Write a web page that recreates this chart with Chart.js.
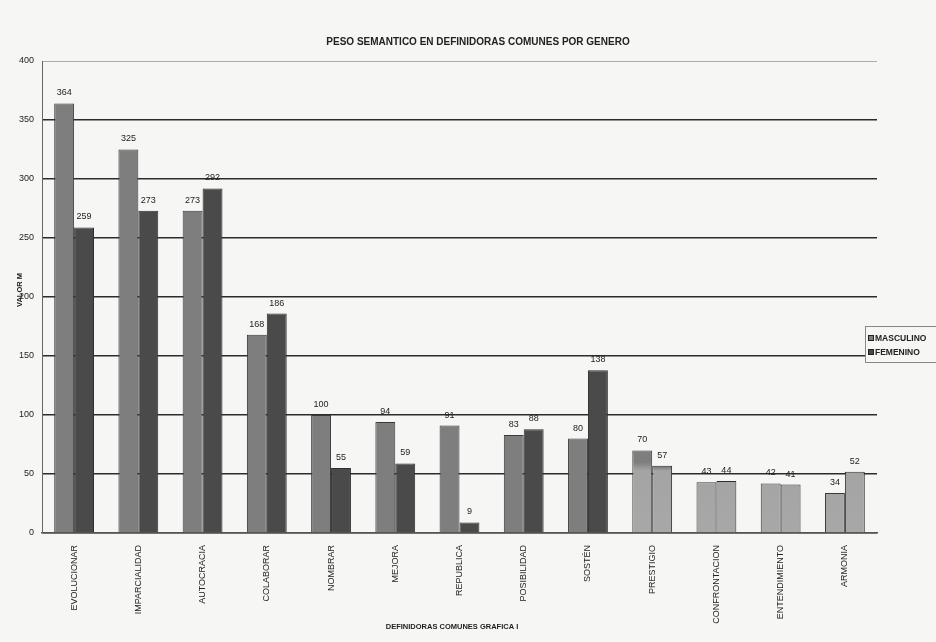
<!DOCTYPE html>
<html>
<head>
<meta charset="utf-8">
<script src="https://cdn.jsdelivr.net/npm/chart.js@4"></script>
<style>
  html, body { margin: 0; padding: 0; background: #f6f6f4; }
  #wrap { width: 936px; height: 642px; position: relative; }
</style>
</head>
<body>
<div id="wrap"><canvas id="myChart" width="936" height="642"></canvas></div>
<script>
// categories and values
var categories = ['EVOLUCIONAR', 'IMPARCIALIDAD', 'AUTOCRACIA', 'COLABORAR', 'NOMBRAR', 'MEJORA',
    'REPUBLICA', 'POSIBILIDAD', 'SOSTÉN', 'PRESTIGIO', 'CONFRONTACION', 'ENTENDIMIENTO', 'ARMONIA'];
var masculino = [364, 325, 273, 168, 100, 94, 91, 83, 80, 70, 43, 42, 34];
var femenino = [259, 273, 292, 186, 55, 59, 9, 88, 138, 57, 44, 41, 52];
var yTicks = [0, 50, 100, 150, 200, 250, 300, 350, 400];

var chartTitle = 'PESO SEMANTICO EN DEFINIDORAS COMUNES POR GENERO';
var xTitle = 'DEFINIDORAS COMUNES GRAFICA I';
var yTitle = 'VALOR M';

var FONT = 'Arial, "Liberation Sans", sans-serif';

/* the last four groups came out lighter at the bottom in the scan */
function barFill(dark) {
    return function (ctx) {
        var chart = ctx.chart;
        var area = chart.chartArea;
        if (!area || ctx.dataIndex < 9) return dark;
        var y = chart.scales.y;
        var g = chart.ctx.createLinearGradient(0, y.getPixelForValue(60), 0, y.getPixelForValue(0));
        g.addColorStop(0, dark);
        g.addColorStop(0.12, '#a4a4a4');
        g.addColorStop(1, '#a8a8a8');
        return g;
    };
}

/* value labels, titles and legend drawn on the canvas */
const extras = {
    id: 'extras',
    afterDatasetsDraw(chart) {
        var c = chart.ctx;
        c.save();
        c.fillStyle = '#222';
        c.font = '9px ' + FONT;
        c.textAlign = 'center';
        c.textBaseline = 'bottom';
        chart.data.datasets.forEach(function (ds, i) {
            var meta = chart.getDatasetMeta(i);
            meta.data.forEach(function (bar, j) {
                c.fillText(ds.data[j], bar.x, bar.y - 6);
            });
        });

        c.font = 'bold 10px ' + FONT;
        c.textBaseline = 'middle';
        c.fillText(chartTitle, 478, 42);

        c.font = 'bold 7.5px ' + FONT;
        c.fillText(xTitle, 452, 627);

        c.save();
        c.translate(20, 290);
        c.rotate(-Math.PI / 2);
        c.font = 'bold 7.5px ' + FONT;
        c.fillText(yTitle, 0, 0);
        c.restore();

        // legend box
        c.fillStyle = '#f6f6f4';
        c.fillRect(865, 326, 71, 37);
        c.strokeStyle = '#888';
        c.lineWidth = 1;
        c.strokeRect(865.5, 326.5, 72, 36);
        c.textAlign = 'left';
        c.font = 'bold 8.5px ' + FONT;
        chart.data.datasets.forEach(function (ds, i) {
            var ly = 338 + i * 14;
            c.fillStyle = ds.legendColor;
            c.fillRect(868, ly - 3, 6, 6);
            c.strokeStyle = '#222';
            c.strokeRect(868.5, ly - 2.5, 5, 5);
            c.fillStyle = '#222';
            c.fillText(ds.label, 875, ly + 0.5);
        });
        c.restore();
    }
};

const data = {
    labels: categories,
    datasets: [
        {
            label: 'MASCULINO',
            data: masculino,
            legendColor: '#7e7e7e',
            backgroundColor: barFill('#7e7e7e'),
            borderColor: '#3a3a3a',
            borderWidth: 1
        },
        {
            label: 'FEMENINO',
            data: femenino,
            legendColor: '#4a4a4a',
            backgroundColor: barFill('#4a4a4a'),
            borderColor: '#2e2e2e',
            borderWidth: 1
        }
    ]
};

const config = {
    type: 'bar',
    data: data,
    options: {
        responsive: false,
        animation: false,
        layout: { padding: { top: 61, right: 59, left: 0, bottom: 0 } },
        categoryPercentage: 0.62,
        barPercentage: 1,
        plugins: {
            legend: { display: false },
            title: { display: false },
            tooltip: { enabled: false }
        },
        scales: {
            x: {
                afterFit: function (s) { s.height = 109; },
                grid: { display: false },
                border: { color: '#555', width: 1.5 },
                ticks: {
                    minRotation: 90,
                    maxRotation: 90,
                    autoSkip: false,
                    color: '#222',
                    padding: 4,
                    font: { family: FONT, size: 9 }
                }
            },
            y: {
                min: 0,
                max: 400,
                afterFit: function (s) { s.width = 42; },
                afterBuildTicks: function (s) { s.ticks = yTicks.map(function (v) { return { value: v }; }); },
                border: { color: '#666', width: 1 },
                grid: {
                    color: function (ctx) { return ctx.tick && ctx.tick.value === 400 ? '#aaa' : '#2c2c2c'; },
                    lineWidth: function (ctx) { return ctx.tick && ctx.tick.value === 400 ? 1 : 1.4; },
                    drawTicks: false
                },
                ticks: {
                    color: '#222',
                    padding: 8,
                    font: { family: FONT, size: 9 }
                }
            }
        }
    },
    plugins: [extras]
};

const myChart = new Chart(document.getElementById('myChart'), config);
</script>
</body>
</html>
